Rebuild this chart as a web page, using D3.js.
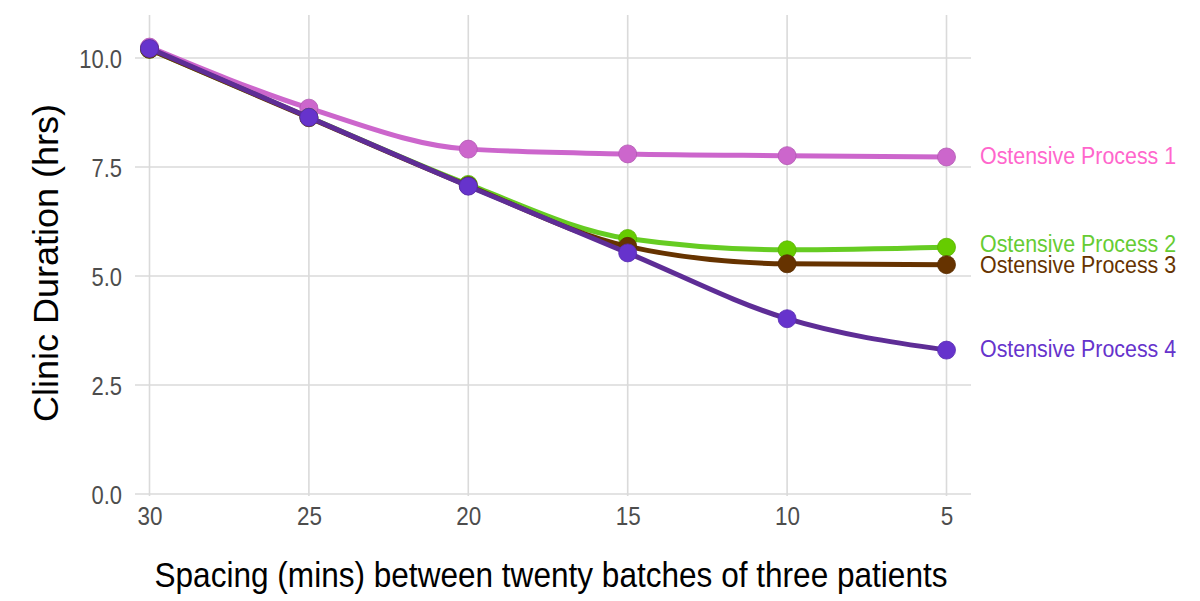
<!DOCTYPE html>
<html><head><meta charset="utf-8">
<script src="https://cdn.jsdelivr.net/npm/d3@7"></script>
<style>body{margin:0;background:#fff}svg{display:block}text{font-family:"Liberation Sans",Arial,sans-serif}</style>
</head><body><svg id="c" width="1200" height="601"></svg>
<script>
const spacing = [30, 25, 20, 15, 10, 5];
const seriesNames = ["Ostensive Process 1","Ostensive Process 2","Ostensive Process 3","Ostensive Process 4"];
const p1 = [10.25, 8.85, 7.91, 7.80, 7.76, 7.73];
const p2 = [10.20, 8.64, 7.10, 5.86, 5.60, 5.66];
const p3 = [10.20, 8.63, 7.07, 5.68, 5.28, 5.26];
const p4 = [10.22, 8.64, 7.06, 5.53, 4.02, 3.30];
const yTicks = [0, 2.5, 5, 7.5, 10];
const pointColors = ["#cc66cc","#66cc00","#663300","#6633cc"];
const lineColors = ["#cc66cc","#66cc22","#663300","#5e2d96"];
const labelColors = ["#ff66cc","#66cc33","#663300","#6633cc"];

(function(){
const series = [p1,p2,p3,p4].map((v,i)=>({name:seriesNames[i], values:v.map((yy,j)=>({x:spacing[j], y:yy}))}));

function squeeze(sel, f){
  sel.each(function(){
    const w = this.getComputedTextLength();
    d3.select(this).attr("textLength", w*f).attr("lengthAdjust","spacingAndGlyphs");
  });
}

const svg = d3.select("#c");
const x = d3.scalePoint().domain(spacing).range([149.5, 946.5]);
const y = d3.scaleLinear().domain([0, 10]).range([494, 58]);
const pL = 135, pR = 971, pT = 15, pB = 494;

const grid = svg.append("g");
grid.selectAll("line.h").data(yTicks).join("line")
  .attr("x1", pL).attr("x2", pR).attr("y1", d=>y(d)).attr("y2", d=>y(d))
  .attr("stroke", "#dadada").attr("stroke-width", 1.6);
grid.selectAll("line.v").data(spacing).join("line")
  .attr("x1", d=>x(d)).attr("x2", d=>x(d)).attr("y1", pT).attr("y2", pB+2)
  .attr("stroke", "#dadada").attr("stroke-width", 1.6);

const yAxis = svg.append("g").attr("transform", `translate(${pL},0)`)
  .call(d3.axisLeft(y).tickValues(yTicks).tickFormat(d3.format(".1f")).tickSize(0).tickPadding(13));
yAxis.select(".domain").remove();
yAxis.selectAll("text").attr("font-size", 25.5).attr("fill", "#4d4d4d").attr("dy","0.36em");
squeeze(yAxis.selectAll("text"), 0.86);

const xAxis = svg.append("g").attr("transform", `translate(0,${pB})`)
  .call(d3.axisBottom(x).tickSize(0).tickPadding(0));
xAxis.select(".domain").remove();
xAxis.selectAll("text").attr("font-size", 25.5).attr("fill", "#4d4d4d").attr("y", 31).attr("dy", 0);
squeeze(xAxis.selectAll("text"), 0.88);

svg.append("text").attr("x", 551).attr("y", 587).attr("text-anchor", "middle")
  .attr("font-size", 35).attr("fill", "#000").text("Spacing (mins) between twenty batches of three patients")
  .attr("textLength", 793).attr("lengthAdjust","spacingAndGlyphs");
svg.append("text").attr("transform", "translate(58,263) rotate(-90)").attr("text-anchor", "middle")
  .attr("font-size", 35).attr("fill", "#000").text("Clinic Duration (hrs)")
  .attr("textLength", 318).attr("lengthAdjust","spacingAndGlyphs");

const line = d3.line().x(d=>x(d.x)).y(d=>y(d.y)).curve(d3.curveMonotoneX);
series.forEach((s,i)=>{
  const g = svg.append("g");
  g.append("path").datum(s.values).attr("d", line).attr("fill","none")
    .attr("stroke", lineColors[i]).attr("stroke-width", 5).attr("stroke-linejoin","round");
  g.selectAll("circle").data(s.values).join("circle")
    .attr("cx", d=>x(d.x)).attr("cy", d=>y(d.y)).attr("r", 9)
    .attr("fill", pointColors[i]).attr("stroke", d3.color(pointColors[i]).darker(0.4)).attr("stroke-width", 0.8);
});

const labels = series.map((s,i)=>({i, name:s.name, ty:y(s.values[s.values.length-1].y)}));
labels.sort((a,b)=>a.ty-b.ty);
const minGap = 21;
for (let k=1;k<labels.length;k++){
  const prev = labels[k-1], cur = labels[k];
  if (cur.ty - prev.ty < minGap){
    const mid = (cur.ty+prev.ty)/2;
    prev.ty = mid - minGap/2; cur.ty = mid + minGap/2;
  }
}
const lt = svg.append("g").selectAll("text").data(labels).join("text")
  .attr("x", 980).attr("y", d=>d.ty).attr("dy","0.3em")
  .attr("font-size", 23).attr("fill", d=>labelColors[d.i]).text(d=>d.name);
squeeze(lt, 0.93);
})();
</script></body></html>
